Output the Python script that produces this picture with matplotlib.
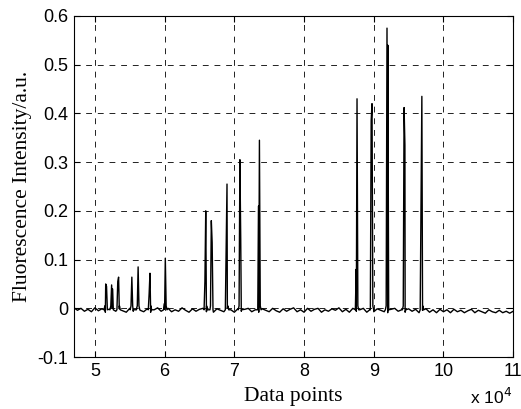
import numpy as np
import matplotlib.pyplot as plt
from matplotlib.ticker import FuncFormatter

# peak positions (data points), heights, and the neighbouring samples on each side
peak_pos = [51550, 52400, 53400, 55300, 56200, 57900, 60100, 65900, 66700, 68950,
            70800, 73600, 87600, 89750, 91900, 94350, 96900]
peak_top = [0.050, 0.048, 0.064, 0.064, 0.085, 0.072, 0.103, 0.200, 0.180, 0.255,
            0.305, 0.345, 0.430, 0.420, 0.575, 0.412, 0.435]
peak_left = [0.005, 0.005, 0.055, 0.005, 0.005, 0.030, 0.010, 0.055, 0.005, 0.135,
             0.005, 0.210, 0.080, 0.385, 0.005, 0.005, 0.225]
peak_right = [0.045, 0.040, 0.005, 0.005, 0.005, 0.005, 0.005, 0.005, 0.135, 0.005,
              0.140, 0.005, 0.005, 0.005, 0.540, 0.335, 0.005]

# baseline samples every 500 points from 47000 to 110000
base_start, base_step = 47000, 500
baseline = [0.001, -0.004, 0.000, -0.006, -0.002, -0.007, 0.001, -0.005, -0.001, -0.008,
            -0.002, 0.000, -0.006, -0.001, -0.005, -0.008, 0.000, -0.006, 0.001, -0.004,
            -0.007, -0.001, -0.008, -0.003, 0.001, -0.006, -0.002, 0.000, -0.007, -0.003,
            -0.006, 0.001, -0.004, -0.008, -0.001, -0.006, -0.002, 0.000, -0.007, -0.003,
            -0.008, -0.001, -0.004, -0.007, 0.001, -0.003, -0.008, -0.001, -0.006, -0.002,
            0.000, -0.007, -0.003, -0.008, -0.001, -0.004, -0.007, 0.000, -0.005, -0.008,
            -0.001, -0.006, -0.002, 0.001, -0.007, -0.003, -0.008, 0.000, -0.006, -0.002,
            0.000, -0.008, -0.003, -0.006, -0.001, -0.004, 0.001, -0.007, -0.002, -0.008,
            0.000, -0.006, -0.003, 0.000, -0.008, -0.002, -0.007, -0.001, -0.004, -0.007,
            -0.009, -0.002, 0.000, -0.006, -0.003, -0.008, -0.001, -0.006, -0.002, -0.009,
            -0.004, -0.001, -0.008, -0.003, -0.009, -0.002, -0.007, -0.003, -0.009, -0.002,
            -0.007, -0.004, -0.009, -0.005, -0.002, -0.009, -0.004, -0.007, -0.010, -0.003,
            -0.007, -0.009, -0.004, -0.009, -0.006, -0.010, -0.006]

bx = [base_start + i * base_step for i in range(len(baseline))]
xs = list(bx)
ys = list(baseline)
dx = 120
for p, t, l, r in zip(peak_pos, peak_top, peak_left, peak_right):
    xs += [p - 2 * dx, p - dx, p, p + dx, p + 2 * dx]
    ys += [-0.003, l, t, r, -0.003]
order = np.argsort(xs, kind='stable')
x = np.array(xs)[order]
y = np.array(ys)[order]

plt.rcParams['font.family'] = ['Liberation Sans', 'DejaVu Sans']
fig = plt.figure(figsize=(5.21, 4.09), dpi=100)
ax = fig.add_axes([0.142, 0.127, 0.843, 0.834])
ax.plot(x, y, color='black', lw=1.0)
ax.set_xlim(47000, 110000)
ax.set_ylim(-0.1, 0.6)
ax.set_xticks(np.arange(50000, 110001, 10000))
ax.set_yticks(np.arange(-0.1, 0.61, 0.1))
ax.xaxis.set_major_formatter(FuncFormatter(lambda v, _: f"{v/1e4:g}"))
ax.yaxis.set_major_formatter(FuncFormatter(lambda v, _: "0" if abs(v) < 1e-9 else f"{v:.1f}"))
ax.tick_params(direction='in', top=True, right=True, labelsize=13, length=4, pad=4)
ax.grid(True, color='#222222', linestyle=(0, (6, 6)), linewidth=0.7)
for s in ax.spines.values():
    s.set_linewidth(0.8)
ax.set_xlabel("Data points", family=['Liberation Serif'], fontsize=15.5, labelpad=5)
ax.set_ylabel("Fluorescence Intensity/a.u.", family=['Liberation Serif'], fontsize=15.5,
              labelpad=4)
fig.text(0.902, 0.012, r"x 10$^4$", fontsize=12.5)

plt.savefig("out.png")
